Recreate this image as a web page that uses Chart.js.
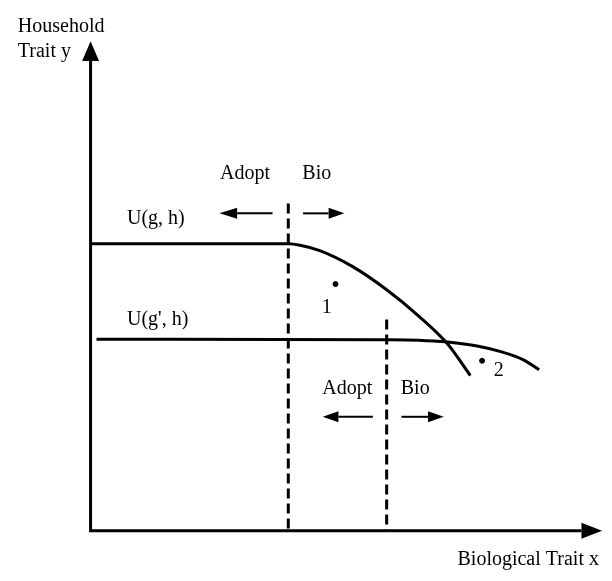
<!DOCTYPE html>
<html>
<head>
<meta charset="utf-8">
<script src="https://cdn.jsdelivr.net/npm/chart.js@4/dist/chart.umd.min.js"></script>
<style>
  html, body { margin: 0; padding: 0; background: #ffffff; }
  canvas { display: block; }
</style>
</head>
<body>
<canvas id="c" width="612" height="581"></canvas>
<script>
// Diagram coordinates: origin at the axes corner, x to the right, y upward.
const axisPath = [[0, 478], [0, 0], [499, 0]];
const axisTips = [[0, 498], [520, 0]];

const curveUgh = [[1, 292], [201, 292], [213, 290.5], [233, 285], [266, 269], [300, 246], [333, 219], [363, 190], [386, 158]];
const curveUgPrimeh = [[6, 195], [300, 194.5], [333, 194], [363, 192], [393, 188], [418, 182], [440, 174], [456, 164]];

const dashedLine1 = [[201, 333], [201, 0]];
const dashedLine2 = [[301, 215], [301, 0]];

const points = [[249, 251], [398, 173]];

// small arrows: shaft start, shaft end (head base), tip
const arrowShafts = [
  [[185, 323], [149, 323]],
  [[216, 323], [242, 323]],
  [[287, 116], [252, 116]],
  [[316, 116], [343, 116]]
];
const arrowTips = [[131, 323], [258, 323], [236, 116], [359, 116]];

const labels = ['Household', 'Trait y', 'Adopt', 'Bio', 'U(g, h)', "U(g', h)", '1', '2', 'Adopt', 'Bio', 'Biological Trait x'];
const labelPos = [[-74, 508], [-74, 482], [157, 358], [230, 358], [37, 312], [37, 209], [240, 222], [415, 158], [261, 139], [330, 139], [373, -35]];
const labelAlign = ['left', 'left', 'center', 'center', 'left', 'left', 'center', 'center', 'center', 'center', 'left'];

const toXY = arr => arr.map(p => ({ x: p[0], y: p[1] }));

const datasets = [];
datasets.push({ data: toXY(axisPath), borderColor: '#000', borderWidth: 3, borderJoinStyle: 'miter', pointRadius: 0, showLine: true });
datasets.push({ data: toXY(curveUgh), borderColor: '#000', borderWidth: 3, pointRadius: 0, showLine: true, cubicInterpolationMode: 'monotone' });
datasets.push({ data: toXY(curveUgPrimeh), borderColor: '#000', borderWidth: 3, pointRadius: 0, showLine: true, cubicInterpolationMode: 'monotone' });
datasets.push({ data: toXY(dashedLine1), borderColor: '#000', borderWidth: 3, borderDash: [10, 5], pointRadius: 0, showLine: true });
datasets.push({ data: toXY(dashedLine2), borderColor: '#000', borderWidth: 3, borderDash: [10, 5], pointRadius: 0, showLine: true });
arrowShafts.forEach(s => datasets.push({ data: toXY(s), borderColor: '#000', borderWidth: 2, pointRadius: 0, showLine: true }));
datasets.push({ data: toXY(points), backgroundColor: '#000', borderColor: '#000', pointRadius: 2.5, showLine: false });

function head(ctx, xs, ys, base, tip, halfW) {
  const bx = xs.getPixelForValue(base[0]), by = ys.getPixelForValue(base[1]);
  const tx = xs.getPixelForValue(tip[0]), ty = ys.getPixelForValue(tip[1]);
  const dx = tx - bx, dy = ty - by, len = Math.hypot(dx, dy) || 1;
  const nx = -dy / len, ny = dx / len;
  ctx.beginPath();
  ctx.moveTo(tx, ty);
  ctx.lineTo(bx + nx * halfW, by + ny * halfW);
  ctx.lineTo(bx - nx * halfW, by - ny * halfW);
  ctx.closePath();
  ctx.fill();
}

const decor = {
  id: 'decor',
  beforeDraw(chart) {
    const ctx = chart.ctx;
    ctx.save();
    ctx.fillStyle = '#fff';
    ctx.fillRect(0, 0, chart.width, chart.height);
    ctx.restore();
  },
  afterDatasetsDraw(chart) {
    const ctx = chart.ctx, xs = chart.scales.x, ys = chart.scales.y;
    ctx.save();
    ctx.fillStyle = '#000';
    head(ctx, xs, ys, axisPath[0], axisTips[0], 8.5);
    head(ctx, xs, ys, axisPath[axisPath.length - 1], axisTips[1], 8);
    arrowShafts.forEach((s, i) => head(ctx, xs, ys, s[1], arrowTips[i], 5.5));
    ctx.font = '20px "Liberation Serif", "Times New Roman", serif';
    ctx.textBaseline = 'alphabetic';
    labels.forEach((t, i) => {
      ctx.textAlign = labelAlign[i];
      ctx.fillText(t, xs.getPixelForValue(labelPos[i][0]), ys.getPixelForValue(labelPos[i][1]));
    });
    ctx.restore();
  }
};

new Chart(document.getElementById('c'), {
  type: 'scatter',
  data: { datasets },
  options: {
    responsive: false,
    animation: false,
    layout: { padding: 0 },
    plugins: { legend: { display: false }, tooltip: { enabled: false } },
    scales: {
      x: { type: 'linear', display: false, min: -87, max: 525 },
      y: { type: 'linear', display: false, min: -46, max: 535 }
    }
  },
  plugins: [decor]
});
</script>
</body>
</html>
